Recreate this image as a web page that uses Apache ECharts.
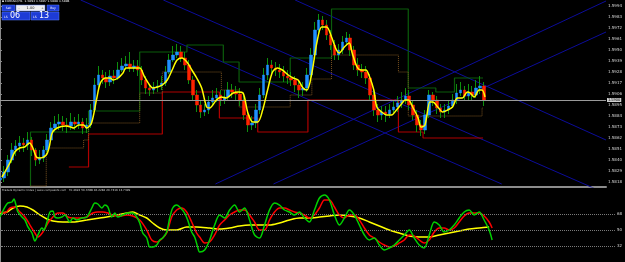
<!DOCTYPE html>
<html><head><meta charset="utf-8">
<script src="https://cdn.jsdelivr.net/npm/echarts@6/dist/echarts.min.js"></script>
<style>html,body{margin:0;padding:0;background:#000;}#c{width:625px;height:262px;}</style>
</head><body><div id="c"></div>
<script>
// ---- main panel: EURUSD H1 bars (index = bar number) ----
const firstOpen = 1.5820;
const closes = [1.5822,1.5828,1.5840,1.5850,1.5854,1.5857,1.5855,1.5860,1.5850,1.5840,
1.5842,1.5850,1.5860,1.5872,1.5876,1.5878,1.5875,1.5874,1.5878,1.5876,
1.5878,1.5872,1.5875,1.5890,1.5915,1.5925,1.5922,1.5918,1.5924,1.5922,
1.5930,1.5934,1.5936,1.5932,1.5934,1.5930,1.5920,1.5912,1.5910,1.5913,
1.5914,1.5917,1.5928,1.5940,1.5945,1.5948,1.5942,1.5935,1.5920,1.5905,
1.5895,1.5888,1.5890,1.5898,1.5902,1.5905,1.5900,1.5903,1.5910,1.5908,
1.5906,1.5900,1.5885,1.5875,1.5877,1.5890,1.5905,1.5925,1.5935,1.5932,
1.5930,1.5928,1.5924,1.5922,1.5920,1.5915,1.5910,1.5912,1.5925,1.5945,
1.5970,1.5980,1.5975,1.5965,1.5955,1.5945,1.5950,1.5958,1.5962,1.5950,
1.5935,1.5930,1.5928,1.5922,1.5905,1.5890,1.5885,1.5888,1.5886,1.5890,
1.5893,1.5897,1.5900,1.5904,1.5895,1.5885,1.5875,1.5870,1.5885,1.5905,
1.5900,1.5892,1.5888,1.5890,1.5894,1.5900,1.5907,1.5910,1.5904,1.5908,
1.5905,1.5912,1.5914,1.5900];
const highs = [1.5830,1.5834,1.5845,1.5857,1.5860,1.5864,1.5862,1.5868,1.5863,1.5852,
1.5850,1.5854,1.5866,1.5878,1.5884,1.5886,1.5884,1.5882,1.5887,1.5883,
1.5886,1.5882,1.5882,1.5896,1.5922,1.5934,1.5930,1.5928,1.5930,1.5930,
1.5938,1.5942,1.5944,1.5948,1.5940,1.5940,1.5934,1.5924,1.5916,1.5918,
1.5920,1.5924,1.5934,1.5946,1.5954,1.5956,1.5954,1.5948,1.5940,1.5924,
1.5910,1.5900,1.5896,1.5904,1.5910,1.5912,1.5910,1.5910,1.5918,1.5916,
1.5914,1.5912,1.5904,1.5890,1.5884,1.5896,1.5912,1.5932,1.5942,1.5940,
1.5938,1.5936,1.5934,1.5930,1.5928,1.5924,1.5920,1.5918,1.5932,1.5952,
1.5978,1.5986,1.5984,1.5980,1.5970,1.5960,1.5956,1.5964,1.5968,1.5966,
1.5954,1.5942,1.5936,1.5934,1.5926,1.5910,1.5896,1.5894,1.5894,1.5896,
1.5900,1.5904,1.5908,1.5912,1.5910,1.5900,1.5890,1.5880,1.5890,1.5910,
1.5908,1.5904,1.5896,1.5896,1.5900,1.5906,1.5916,1.5918,1.5914,1.5916,
1.5914,1.5920,1.5924,1.5918];
const lows = [1.5816,1.5818,1.5824,1.5837,1.5844,1.5848,1.5848,1.5850,1.5844,1.5834,
1.5836,1.5838,1.5848,1.5858,1.5868,1.5870,1.5869,1.5867,1.5870,1.5870,
1.5871,1.5866,1.5867,1.5872,1.5888,1.5912,1.5916,1.5912,1.5914,1.5916,
1.5920,1.5928,1.5930,1.5928,1.5928,1.5924,1.5915,1.5906,1.5904,1.5906,
1.5908,1.5910,1.5914,1.5926,1.5938,1.5942,1.5938,1.5930,1.5916,1.5900,
1.5888,1.5882,1.5884,1.5886,1.5894,1.5898,1.5894,1.5896,1.5900,1.5902,
1.5900,1.5894,1.5880,1.5868,1.5870,1.5872,1.5886,1.5902,1.5920,1.5926,
1.5924,1.5922,1.5918,1.5916,1.5914,1.5908,1.5902,1.5904,1.5908,1.5920,
1.5940,1.5966,1.5970,1.5960,1.5950,1.5940,1.5940,1.5946,1.5954,1.5944,
1.5930,1.5924,1.5922,1.5916,1.5900,1.5884,1.5878,1.5880,1.5878,1.5882,
1.5886,1.5888,1.5892,1.5896,1.5890,1.5880,1.5868,1.5864,1.5866,1.5882,
1.5894,1.5886,1.5882,1.5882,1.5886,1.5892,1.5896,1.5904,1.5900,1.5900,
1.5900,1.5902,1.5906,1.5894];
// yellow moving average [bar, price]
const maLine = [[0.5,1.5823],[2.5,1.5837],[3.75,1.5848],[5,1.5852],[6.25,1.5853],[7.5,1.5857],[8.25,1.5853],[9.25,1.5843],[10,1.5842],[11.75,1.5845],[12.5,1.5853],[13.25,1.5867],[14.5,1.5872],[16.75,1.5874],[18,1.5873],[18.75,1.5872],[20,1.5875],[21.25,1.5875],[22,1.5872],[23.25,1.5877],[24.5,1.5900],[25.5,1.5917],[26.75,1.5922],[28,1.5922],[28.75,1.5920],[30,1.5922],[31.25,1.5927],[32,1.5932],[34.25,1.5932],[35.5,1.5932],[36.75,1.5923],[38,1.5915],[38.75,1.5912],[40,1.5913],[41.25,1.5915],[42.5,1.5920],[43.75,1.5930],[45,1.5940],[46.25,1.5942],[47.5,1.5938],[48.75,1.5930],[50,1.5922],[51.25,1.5912],[52.5,1.5893],[53.25,1.5892],[55,1.5900],[56.25,1.5903],[57.5,1.5902],[59.25,1.5907],[60.5,1.5908],[61.75,1.5907],[63,1.5887],[64.25,1.5878],[65.5,1.5878],[66.75,1.5890],[68,1.5910],[69.25,1.5928],[70.5,1.5932],[71.75,1.5930],[73.25,1.5925],[74.5,1.5922],[75.75,1.5920],[77,1.5912],[78,1.5910],[79.25,1.5927],[80.5,1.5957],[81.75,1.5973],[83,1.5973],[84.25,1.5963],[85.5,1.5950],[86.25,1.5947],[87.5,1.5953],[88.75,1.5957],[89.5,1.5947],[90.75,1.5933],[91.75,1.5930],[93,1.5930],[93.75,1.5925],[95,1.5910],[95.75,1.5893],[97,1.5888],[98.25,1.5885],[99.5,1.5885],[100.75,1.5890],[102,1.5896],[103,1.5900],[103.75,1.5900],[105,1.5892],[106.25,1.5882],[107,1.5873],[108,1.5875],[109.25,1.5898],[110,1.5898],[111.25,1.5893],[112.5,1.5888],[113.75,1.5890],[115,1.5893],[116.25,1.5902],[117.5,1.5902],[118.75,1.5908],[119.5,1.5907],[120.5,1.5903],[121.75,1.5910],[122.5,1.5910],[123.25,1.5903]];
// daily levels (step lines) [bar, price]
const dayHigh = [[7.75,1.5814],[7.75,1.5868],[22.5,1.5889],[35.5,1.5948],[47.5,1.5955],[56.75,1.5938],[60.75,1.5918],[73.75,1.5942],[84.25,1.5991],[103.75,1.5912],[110.75,1.5908],[115.5,1.5922],[122.75,1.5922]];
const dayLow = [[17.5,1.5833],[22.5,1.5866],[41.25,1.5908],[55.75,1.5882],[65.5,1.5868],[78.25,1.5900],[101.25,1.5868],[107.5,1.5862],[122.75,1.5862]];
const dayMid = [[7.75,1.5814],[11.75,1.5852],[21.25,1.5860],[22.5,1.5877],[35.5,1.5907],[41.25,1.5928],[56.25,1.5910],[60.75,1.5893],[73.75,1.5905],[79.25,1.5921],[84.25,1.5945],[101.25,1.5928],[103.75,1.5884],[122.5,1.5892],[122.75,1.5892]];
// trend lines: pairs of [bar, price]
const trendLines = [
  [[20.5,1.6000],[127.5,1.5816]],
  [[41.5,1.6000],[154,1.58065]],
  [[75,1.6000],[154,1.5860]],
  [[54.75,1.5816],[154,1.5999]],
  [[69.5,1.5816],[154,1.5968]]
];
const currentPrice = 1.5894;
const priceTicks = [1.5818,1.5829,1.5840,1.5851,1.5862,1.5873,1.5884,1.5895,1.5906,1.5917,1.5928,1.5939,1.5950,1.5961,1.5972,1.5983,1.5994];

// ---- Traders Dynamic Index panel [bar, value] ----
const tdiRsi = [[0,64.6],[1.25,75.9],[2,80.4],[3,81.5],[3.5,84.9],[4,78.1],[4.5,70.25],[5.5,64.6],[6.25,61.25],[7,53.4],[8,46.6],[8.75,37.6],[9.5,44.4],[10.5,52.25],[11,50],[11.75,59],[12.5,70.25],[13.25,71.4],[13.75,64.6],[14.5,63.5],[15.5,64.6],[16.25,66.9],[17.5,59],[18.25,63.5],[19.25,61.25],[20.5,63.5],[21.75,64.6],[23,74.75],[23.75,80.4],[24.5,79.25],[25.5,74.75],[26.25,78.1],[27,75.9],[28,64.6],[28.75,69.1],[29.5,64.6],[30.75,66.9],[32,69.1],[33.25,69.1],[34.25,64.6],[35,57.9],[35.75,46.6],[36.75,41],[37.5,30.9],[38.25,30.9],[39.25,33.1],[40,38.75],[40.75,41],[41.75,47.75],[42.5,63.5],[43.25,74.75],[44.25,78.1],[45,75.9],[46.25,69.1],[47,61.25],[48,47.75],[48.75,42.1],[49.5,30.9],[50,25.25],[51.25,27.5],[52.5,38.75],[53.75,55.6],[55,66.9],[56.25,63.5],[57.5,72.5],[58.75,78.1],[60,70.25],[61.25,74.75],[62.5,61.25],[63.75,44.4],[65,41],[66.25,55.6],[67.5,72.5],[68.75,80.4],[70,78.1],[71.25,72.5],[72.5,70.25],[73.75,66.9],[75,70.25],[76.25,63.5],[77.5,59],[78.75,72.5],[80,86],[81.25,89.4],[82.5,83.75],[83.75,66.9],[85,55.6],[86.25,63.5],[87.5,72.5],[88.75,66.9],[90,55.6],[91.25,44.4],[92.5,38.75],[93.75,41],[95,33.1],[96.25,27.5],[97.5,29.75],[98.75,33.1],[100,38.75],[101.25,44.4],[102.5,50],[103.75,41],[105,33.1],[106.25,29.75],[107.5,44.4],[108.75,59],[110,55.6],[111.25,47.75],[112.5,50],[113.75,55.6],[115,63.5],[116.25,70.25],[117.5,72.5],[118.75,66.9],[120,70.25],[121.25,61.25],[122.5,50],[123.25,38.75]];
const tdiSignal = [[0,70.25],[1.25,69.1],[2.5,74.75],[3.75,75.9],[5,70.25],[6.25,64.6],[7.5,55.6],[8.75,46.6],[9.5,42.1],[10.75,47.75],[12,57.9],[13.25,64.6],[14.5,69.1],[15.75,69.1],[17,64.6],[18.25,63.5],[20,63.5],[21.75,64.6],[23.25,69.1],[24.5,70.25],[25.75,70.25],[27,69.1],[28.25,66.9],[30,65.75],[31.75,66.9],[33.25,65.75],[35,61.25],[36.75,50],[38,38.75],[39.25,36.5],[40.5,39.9],[41.75,46.6],[43,64.6],[44.25,72.5],[45.5,74.75],[46.75,70.25],[48,59],[49.25,46.6],[50,42.1],[51.25,35.4],[52.5,36.5],[53.75,44.4],[55,55.6],[56.25,61.25],[57.5,66.9],[58.75,70.25],[60,72.5],[61.25,72.5],[62.5,66.9],[63.75,59],[65,50],[66.25,50],[67.5,61.25],[68.75,70.25],[70,74.75],[71.25,74.75],[72.5,72.5],[73.75,70.25],[75,69.1],[76.25,66.9],[77.5,63.5],[78.75,66.9],[80,74.75],[81.25,83.75],[82.5,83.75],[83.75,75.9],[85,66.9],[86.25,63.5],[87.5,66.9],[88.75,66.9],[90,61.25],[91.25,52.25],[92.5,44.4],[93.75,41],[95,36.5],[96.25,33.1],[97.5,30.9],[98.75,32],[100,35.4],[101.25,38.75],[102.5,44.4],[103.75,43.25],[105,38.75],[106.25,35.4],[107.5,38.75],[108.75,47.75],[110,52.25],[111.25,52.25],[112.5,50],[113.75,52.25],[115,59],[116.25,65.75],[117.5,69.1],[118.75,69.1],[120,69.1],[121.25,65.75],[122.5,59],[123.25,52.25]];
const tdiBase = [[0,69.1],[1.75,70.25],[3.25,74.75],[5,77],[6.75,75.9],[8.25,72.5],[10,66.9],[11.75,62.4],[13.25,60.1],[15.75,59],[18.25,59],[21.75,61.25],[25,63.5],[28.25,65.75],[31.75,69.1],[33.25,70.25],[35,66.9],[36.75,63.5],[38.25,57.9],[40,52.25],[41.75,50],[44.25,50],[46.75,53.4],[49.25,53.4],[52.5,52.25],[55,51.1],[57.5,52.25],[60,54.5],[62.5,55.6],[65,55.6],[67.5,55.6],[70,57.9],[72.5,61.25],[75,63.5],[77.5,63.5],[80,64.6],[82.5,65.75],[85,66.9],[87.5,65.75],[90,63.5],[92.5,59],[95,54.5],[97.5,50],[100,46.6],[102.5,43.25],[105,42.1],[107.5,42.1],[110,44.4],[112.5,46.6],[115,48.9],[117.5,51.1],[120,52.25],[122.5,53.4]];
const tdiLevels = [68, 50, 32];

const opens = closes.map((c, i) => i === 0 ? firstOpen : closes[i - 1]);
const wickData = closes.map((c, i) => [i, opens[i], c, lows[i], highs[i]]);
const bodyData = closes.map((c, i) => [i, opens[i], c, Math.min(opens[i], c), Math.max(opens[i], c)]);

const chart = echarts.init(document.getElementById('c'), null, {renderer: 'canvas'});
const gray = '#8a8a8a';
const tiny = {fontSize: 4, color: '#d8d8d8', fontFamily: 'DejaVu Sans'};

const series = [];
trendLines.forEach(tl => series.push({
  type: 'line', xAxisIndex: 0, yAxisIndex: 0, data: tl, symbol: 'none', silent: true,
  lineStyle: {color: '#0c0c9a', width: 1}, z: 1
}));
series.push({type: 'line', step: 'end', data: dayHigh, symbol: 'none', lineStyle: {color: '#0b5d0b', width: 1.2}, z: 2});
series.push({type: 'line', step: 'end', data: dayLow, symbol: 'none', lineStyle: {color: '#b00000', width: 1.2}, z: 2});
series.push({type: 'line', step: 'end', data: dayMid, symbol: 'none', lineStyle: {color: '#7a5320', width: 1, type: 'dotted'}, z: 2});
series.push({
  type: 'candlestick', xAxisIndex: 0, yAxisIndex: 0, data: wickData, barWidth: 1,
  encode: {x: 0, y: [1, 2, 3, 4]},
  itemStyle: {color: '#0d8f0d', color0: '#0d8f0d', borderColor: '#0d8f0d', borderColor0: '#0d8f0d', borderWidth: 1},
  z: 3,
  markLine: {
    silent: true, symbol: 'none', animation: false,
    lineStyle: {color: '#9a9a9a', width: 1, type: 'solid'},
    label: {show: true, position: 'end', formatter: p => p.value.toFixed(4), fontSize: 4, color: '#000', backgroundColor: '#d0d0d0', padding: [0, 1], distance: 1},
    data: [{yAxis: currentPrice}]
  }
});
series.push({
  type: 'candlestick', xAxisIndex: 0, yAxisIndex: 0, data: bodyData, barWidth: 3,
  encode: {x: 0, y: [1, 2, 3, 4]},
  itemStyle: {color: '#1e90ff', color0: '#ff2200', borderColor: '#1e90ff', borderColor0: '#ff2200', borderWidth: 0.5},
  z: 4
});
series.push({type: 'line', data: maLine, symbol: 'none', smooth: 0.3, lineStyle: {color: '#ffff00', width: 1.5}, z: 5});

series.push({
  type: 'line', xAxisIndex: 1, yAxisIndex: 1, data: tdiBase, symbol: 'none', smooth: 0.3,
  lineStyle: {color: '#ffff00', width: 1.5}, z: 3,
  markLine: {silent: true, symbol: 'none', label: {show: false}, animation: false,
    lineStyle: {color: '#7a7a7a', width: 1, type: 'dotted'},
    data: tdiLevels.map(v => ({yAxis: v}))}
});
series.push({type: 'line', xAxisIndex: 1, yAxisIndex: 1, data: tdiSignal, symbol: 'none', smooth: 0.3, lineStyle: {color: '#ff0000', width: 1.5}, z: 4});
series.push({type: 'line', xAxisIndex: 1, yAxisIndex: 1, data: tdiRsi, symbol: 'none', smooth: 0.3, lineStyle: {color: '#00d000', width: 1.5}, z: 5});

const blue = '#1d3bd6', blueEdge = '#5b7dff';
chart.setOption({
  backgroundColor: '#000000',
  animation: false,
  grid: [
    {left: 0, right: 9, top: 0, height: 187},
    {left: 0, right: 9, top: 188, height: 74}
  ],
  xAxis: [
    {gridIndex: 0, type: 'value', min: 0, max: 154, axisLine: {show: true, onZero: false, lineStyle: {color: '#8c8c8c', width: 2}}, axisTick: {show: false}, axisLabel: {show: false}, splitLine: {show: false}},
    {gridIndex: 1, type: 'value', min: 0, max: 154, show: false}
  ],
  yAxis: [
    {gridIndex: 0, type: 'value', position: 'right', min: 1.5813, max: 1.6000, scale: true,
      axisLine: {show: true, lineStyle: {color: gray}},
      axisTick: {show: true, length: 2, customValues: priceTicks, lineStyle: {color: gray}},
      axisLabel: Object.assign({customValues: priceTicks, margin: 2, formatter: v => v.toFixed(4)}, tiny),
      splitLine: {show: false}},
    {gridIndex: 1, type: 'value', position: 'right', min: 14, max: 97.25,
      axisLine: {show: true, lineStyle: {color: gray}},
      axisTick: {show: true, length: 2, customValues: tdiLevels, lineStyle: {color: gray}},
      axisLabel: Object.assign({customValues: tdiLevels, margin: 2}, tiny),
      splitLine: {show: false}}
  ],
  graphic: [
    {type: 'text', x: 2, y: 0, style: {text: '\u25aa EURUSD,H1  1.5893 1.5897 1.5888 1.5894', fill: '#ffffff', font: '3px "DejaVu Sans"'}},
    {type: 'rect', shape: {x: 2, y: 5, width: 13, height: 6}, style: {fill: blue, stroke: blueEdge, lineWidth: 0.5}},
    {type: 'text', x: 8.5, y: 8, style: {text: 'Sell', fill: '#fff', font: '3px "DejaVu Sans"', align: 'center', verticalAlign: 'middle', textAlign: 'center', textVerticalAlign: 'middle'}},
    {type: 'rect', shape: {x: 16, y: 5, width: 29, height: 6}, style: {fill: '#eeeeee', stroke: blueEdge, lineWidth: 0.5}},
    {type: 'text', x: 19, y: 8, style: {text: '-', fill: '#333', font: '3px "DejaVu Sans"', align: 'center', verticalAlign: 'middle', textAlign: 'center', textVerticalAlign: 'middle'}},
    {type: 'text', x: 30.5, y: 8, style: {text: '1.00', fill: '#111', font: '3.5px "DejaVu Sans"', align: 'center', verticalAlign: 'middle', textAlign: 'center', textVerticalAlign: 'middle'}},
    {type: 'text', x: 42.5, y: 8, style: {text: '+', fill: '#333', font: '3px "DejaVu Sans"', align: 'center', verticalAlign: 'middle', textAlign: 'center', textVerticalAlign: 'middle'}},
    {type: 'rect', shape: {x: 47, y: 5, width: 12, height: 6}, style: {fill: blue, stroke: blueEdge, lineWidth: 0.5}},
    {type: 'text', x: 53, y: 8, style: {text: 'Buy', fill: '#fff', font: '3px "DejaVu Sans"', align: 'center', verticalAlign: 'middle', textAlign: 'center', textVerticalAlign: 'middle'}},
    {type: 'rect', shape: {x: 2, y: 12, width: 28, height: 8}, style: {fill: blue, stroke: blueEdge, lineWidth: 0.5}},
    {type: 'text', x: 4, y: 17, style: {text: 'LS', fill: '#fff', font: '3px "DejaVu Sans"', verticalAlign: 'middle', textVerticalAlign: 'middle'}},
    {type: 'text', x: 10, y: 16, style: {text: '06', fill: '#fff', font: '8px "DejaVu Sans"', verticalAlign: 'middle', textVerticalAlign: 'middle'}},
    {type: 'rect', shape: {x: 31, y: 12, width: 28, height: 8}, style: {fill: blue, stroke: blueEdge, lineWidth: 0.5}},
    {type: 'text', x: 33, y: 17, style: {text: 'LS', fill: '#fff', font: '3px "DejaVu Sans"', verticalAlign: 'middle', textVerticalAlign: 'middle'}},
    {type: 'text', x: 39, y: 16, style: {text: '13', fill: '#fff', font: '8px "DejaVu Sans"', verticalAlign: 'middle', textVerticalAlign: 'middle'}},
    {type: 'text', x: 2, y: 189, style: {text: 'Traders Dynamic Index | www.compassfx.com   70.4922 56.3788 46.2282 26.7319 13.7399', fill: '#cfcfcf', font: '2.8px "DejaVu Sans"'}}
  ],
  series: series
});
</script>
</body></html>
